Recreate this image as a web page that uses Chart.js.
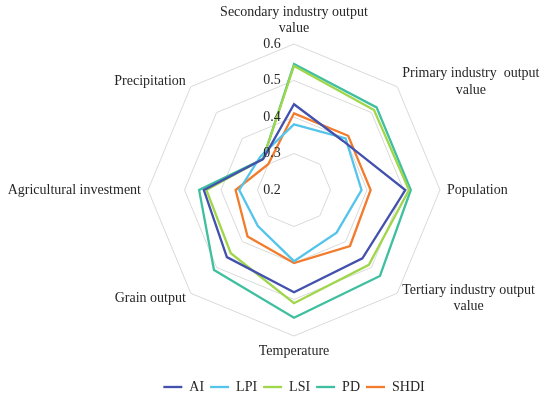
<!DOCTYPE html>
<html>
<head>
<meta charset="utf-8">
<script src="https://cdn.jsdelivr.net/npm/chart.js@4"></script>
<style>
  html, body { margin: 0; padding: 0; background: #fff; }
  #wrap { width: 550px; height: 399px; }
</style>
</head>
<body>
<div id="wrap"><canvas id="radar"></canvas></div>
<script>
const categories = [
  ["Secondary industry output", "value"],
  ["Primary industry  output", "value"],
  "Population",
  ["Tertiary industry output", "value"],
  "Temperature",
  "Grain output",
  "Agricultural investment",
  "Precipitation"
];

const aiValues   = [0.435, 0.39, 0.505, 0.465, 0.48, 0.46, 0.447, 0.32];
const lpiValues  = [0.38, 0.40, 0.385, 0.365, 0.395, 0.34, 0.35, 0.33];
const lsiValues  = [0.54, 0.51, 0.515, 0.49, 0.51, 0.445, 0.44, 0.32];
const pdValues   = [0.545, 0.52, 0.52, 0.533, 0.55, 0.51, 0.46, 0.32];
const shdiValues = [0.41, 0.41, 0.41, 0.417, 0.40, 0.38, 0.36, 0.30];

const tickValues = [0.2, 0.3, 0.4, 0.5, 0.6];

const FONT = "'Liberation Serif', 'Times New Roman', serif";
const TEXT_COLOR = "#262626";
const LINE_H = 16.5;

function series(label, data, color) {
  return {
    label, data,
    borderColor: color,
    backgroundColor: color,
    borderWidth: 2.3,
    fill: false,
    pointRadius: 0,
    pointHoverRadius: 0
  };
}

// Excel-style tick labels: left of the vertical axis, centre value included
const tickLabelPlugin = {
  id: 'tickLabels',
  afterDatasetsDraw(chart) {
    const r = chart.scales.r;
    const ctx = chart.ctx;
    ctx.save();
    ctx.font = `14px ${FONT}`;
    ctx.fillStyle = TEXT_COLOR;
    ctx.textAlign = "center";
    ctx.textBaseline = "middle";
    tickValues.forEach(v => {
      const d = r.getDistanceFromCenterForValue(v);
      ctx.fillText(v.toFixed(1), r.xCenter - 22, r.yCenter - d);
    });
    ctx.restore();
  }
};

// Category labels with centred multi-line blocks (Chart.js left/right-aligns the lines)
const pointLabelPlugin = {
  id: 'categoryLabels',
  afterDraw(chart) {
    const r = chart.scales.r;
    const ctx = chart.ctx;
    ctx.save();
    ctx.font = `14px ${FONT}`;
    ctx.fillStyle = TEXT_COLOR;
    ctx.textAlign = "center";
    ctx.textBaseline = "middle";
    categories.forEach((label, i) => {
      const lines = Array.isArray(label) ? label : [label];
      const p = r.getPointPosition(i, r.drawingArea + 7);
      const blockW = Math.max(...lines.map(l => ctx.measureText(l).width));
      const blockH = lines.length * LINE_H;
      const angle = i * 360 / categories.length;
      let left, top;
      if (angle === 0) { left = p.x - blockW / 2; top = p.y - blockH; }
      else if (angle === 180) { left = p.x - blockW / 2; top = p.y; }
      else if (angle < 180) { left = p.x; top = p.y - blockH / 2; }
      else { left = p.x - blockW; top = p.y - blockH / 2; }
      lines.forEach((l, j) => ctx.fillText(l, left + blockW / 2, top + LINE_H * (j + 0.5)));
    });
    ctx.restore();
  }
};

new Chart(document.getElementById("radar").getContext("2d"), {
  type: 'radar',
  data: {
    labels: categories,
    datasets: [
      series("AI", aiValues, "#4351AE"),
      series("LPI", lpiValues, "#55C4EA"),
      series("LSI", lsiValues, "#9FD64A"),
      series("PD", pdValues, "#3FBF9F"),
      series("SHDI", shdiValues, "#F27B2C")
    ]
  },
  options: {
    responsive: true,
    maintainAspectRatio: false,
    animation: false,
    elements: { line: { tension: 0 } },
    layout: { padding: { top: 6, bottom: -5, left: 148, right: 110 } },
    plugins: {
      legend: {
        position: 'bottom',
        labels: {
          font: { family: FONT, size: 14 },
          color: TEXT_COLOR,
          usePointStyle: true,
          pointStyle: 'line',
          pointStyleWidth: 19,
          boxHeight: 14,
          padding: 6
        }
      },
      tooltip: { enabled: false }
    },
    scales: {
      r: {
        min: 0.2,
        max: 0.6,
        ticks: { stepSize: 0.1, display: false },
        grid: { color: "#D9D9D9", lineWidth: 1, circular: false },
        angleLines: { display: false },
        pointLabels: { display: false }
      }
    }
  },
  plugins: [tickLabelPlugin, pointLabelPlugin]
});
</script>
</body>
</html>
